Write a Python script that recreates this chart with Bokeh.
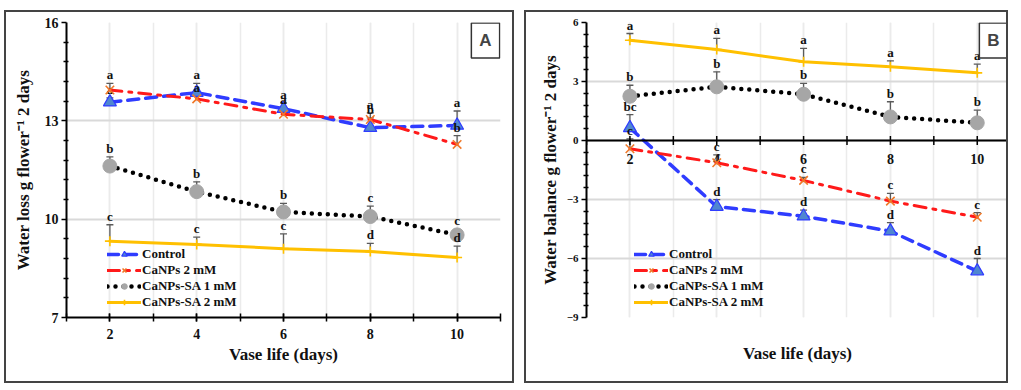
import numpy as np
from bokeh.plotting import figure
from bokeh.models import (ColumnDataSource, Whisker, TeeHead, Legend, LegendItem,
                          FixedTicker, Range1d, Label, Span, Spacer, Title)
from bokeh.layouts import row, column
from bokeh.core.properties import value
from bokeh.embed import file_html
from bokeh.resources import INLINE

# ---------------- data ----------------
days = [2, 4, 6, 8, 10]
x_tick_labels = ["2", "4", "6", "8", "10"]
x_all_ticks = [1, 2, 3, 4, 5, 6, 7, 8, 9, 10, 11]
series_names = ["Control", "CaNPs 2 mM", "CaNPs-SA 1 mM", "CaNPs-SA 2 mM"]

# Panel A: water loss (g flower-1 2 days)
loss_control = [13.57, 13.86, 13.37, 12.79, 12.86]
loss_control_err = [0.13, 0.28, 0.18, 0.30, 0.44]
loss_canps = [13.94, 13.67, 13.20, 13.04, 12.28]
loss_canps_err = [0.20, 0.10, 0.20, 0.20, 0.27]
loss_sa1 = [11.62, 10.84, 10.22, 10.08, 9.52]
loss_sa1_err = [0.28, 0.30, 0.26, 0.32, 0.17]
loss_sa2 = [9.33, 9.23, 9.10, 9.01, 8.83]
loss_sa2_err = [0.50, 0.22, 0.45, 0.25, 0.35]
loss_control_letters = ["a", "a", "a", "b", "a"]
loss_canps_letters = ["a", "a", "a", "a", "b"]
loss_sa1_letters = ["b", "b", "b", "c", "c"]
loss_sa2_letters = ["c", "c", "c", "d", "d"]
loss_y_ticks = [7, 10, 13, 16]
loss_y_minor = [7.6, 8.2, 8.8, 9.4, 10.6, 11.2, 11.8, 12.4, 13.6, 14.2, 14.8, 15.4]

# Panel B: water balance (g flower-1 2 days)
bal_control = [0.64, -3.36, -3.85, -4.61, -6.64]
bal_control_err = [0.68, 0.35, 0.31, 0.43, 0.64]
bal_canps = [-0.42, -1.13, -2.03, -3.08, -3.90]
bal_canps_err = [0.50, 0.40, 0.15, 0.39, 0.23]
bal_sa1 = [2.25, 2.73, 2.35, 1.20, 0.90]
bal_sa1_err = [0.56, 0.76, 0.55, 0.77, 0.64]
bal_sa2 = [5.10, 4.63, 4.00, 3.75, 3.44]
bal_sa2_err = [0.34, 0.56, 0.68, 0.30, 0.44]
bal_control_letters = ["bc", "d", "d", "d", "d"]
bal_canps_letters = ["c", "c", "c", "c", "c"]
bal_sa1_letters = ["b", "b", "b", "b", "b"]
bal_sa2_letters = ["a", "a", "a", "a", "a"]
bal_y_ticks = [-9, -6, -3, 0, 3, 6]
bal_y_minor = [-8.4, -7.8, -7.2, -6.6, -5.4, -4.8, -4.2, -3.6, -2.4, -1.8, -1.2, -0.6,
               0.6, 1.2, 1.8, 2.4, 3.6, 4.2, 4.8, 5.4]

# ---------------- styles ----------------
SERIF = "Liberation Serif"
STYLES = [
    dict(line_color="#2f3cff", line_width=3.5, line_dash="11 7", marker="triangle",
         size=13, fill_color="#4f86d0", mline="#2f3cff", mlw=1.2),
    dict(line_color="#ff1a1a", line_width=3, line_dash="12 7 3 7", marker="x",
         size=12, fill_color="#f07828", mline="#f07828", mlw=1.6),
    dict(line_color="#000000", line_width=4.5, line_dash="0 8", marker="circle",
         size=14, fill_color="#a6a6a6", mline="#a6a6a6", mlw=1),
    dict(line_color="#ffc000", line_width=3, line_dash="solid", marker="cross",
         size=10, fill_color="#ffc000", mline="#ffc000", mlw=1.6),
]
GRID = "#ebebeb"


def make_panel(vals, errs, letters, ylabel, yr, yticks, yminor, x_end, ytick_size,
               zero_axis, box_text, box_x, width, height, mb_left, mb_right, leg_x):
    p = figure(width=width, height=height, output_backend="svg", toolbar_location=None,
               x_range=Range1d(1, x_end), y_range=Range1d(*yr),
               min_border_left=mb_left, min_border_right=mb_right,
               min_border_top=10, min_border_bottom=height - 10 - 295)
    p.outline_line_color = None
    p.background_fill_color = "white"
    p.styles = {"border": "2px solid #444444"}

    # axes
    xt = FixedTicker(ticks=days, minor_ticks=x_all_ticks)
    p.xaxis.ticker = xt
    p.xgrid.ticker = xt
    p.xgrid.grid_line_color = GRID
    p.xgrid.minor_grid_line_color = GRID
    p.xgrid.grid_line_width = 1.5
    p.xgrid.minor_grid_line_width = 1.5
    yt = FixedTicker(ticks=yticks, minor_ticks=yminor)
    p.yaxis.ticker = yt
    p.ygrid.ticker = yt
    p.ygrid.grid_line_color = "#d9d9d9"
    p.ygrid.grid_line_width = 2

    for ax in (p.xaxis[0], p.yaxis[0]):
        ax.axis_line_color = "black"
        ax.axis_line_width = 2
        ax.major_tick_line_color = "black"
        ax.major_tick_line_width = 1.5
        ax.minor_tick_line_color = "black"
        ax.minor_tick_line_width = 1.5
        ax.major_tick_in = 0
        ax.major_tick_out = 5
        ax.minor_tick_in = 2
        ax.minor_tick_out = 3
        ax.major_label_text_font = SERIF
        ax.major_label_text_font_style = "bold"
        ax.axis_label_text_font = SERIF
        ax.axis_label_text_font_style = "bold"
        ax.axis_label_text_font_size = "17px"
        ax.axis_label_text_color = "#111111"
        ax.major_label_text_color = "#111111"

    p.yaxis.major_label_text_font_size = ytick_size
    p.yaxis.major_label_standoff = 3
    if not zero_axis:
        p.yaxis.axis_label = ylabel
        p.yaxis.axis_label_standoff = 9
    else:
        p.add_layout(Title(text=ylabel, align="center", offset=39, standoff=8,
                           text_font=SERIF, text_font_style="bold", text_font_size="17px",
                           text_color="#111111"), "left")

    p.xaxis.axis_label = "Vase life (days)"
    p.xaxis.major_label_text_font_size = "14px"
    if not zero_axis:
        p.xaxis.major_label_overrides = {d: s for d, s in zip(days, x_tick_labels)}
        p.xaxis.major_tick_in = 4
        p.xaxis.major_tick_out = 4
        p.xaxis.minor_tick_in = 4
        p.xaxis.minor_tick_out = 4
        p.xaxis.major_label_standoff = 7
        p.xaxis.axis_label_standoff = 3
    else:
        p.xaxis.ticker = FixedTicker(ticks=[])
        p.xaxis.axis_line_color = None
        p.xaxis.major_tick_out = 0
        p.xaxis.minor_tick_out = 0
        p.xaxis.axis_label_standoff = 26
        p.add_layout(Span(location=0, dimension="width", line_color="black", line_width=2))
        p.scatter(x=x_all_ticks, y=[0] * len(x_all_ticks), marker="dash", angle=np.pi / 2,
                  size=9, line_color="black", line_width=1.5)
        p.text(x=days, y=[0] * len(days), text=x_tick_labels, text_font=value(SERIF),
               text_font_style="bold", text_font_size="14px", text_align="center",
               text_baseline="top", y_offset=13, text_color="#111111")

    items = []
    for name, v, e, lab, st in zip(series_names, vals, errs, letters, STYLES):
        src = ColumnDataSource(dict(x=days, y=v, top=[a + b for a, b in zip(v, e)], lab=lab))
        p.add_layout(Whisker(source=src, base="x", upper="top", lower="y",
                             line_color="#5a5a5a", line_width=1.3, lower_head=None,
                             upper_head=TeeHead(size=7, line_color="#5a5a5a", line_width=1.3)))
        lr = p.line("x", "y", source=src, line_color=st["line_color"],
                    line_width=st["line_width"], line_dash=st["line_dash"], line_cap="round")
        mr = p.scatter("x", "y", source=src, marker=st["marker"], size=st["size"],
                       fill_color=st["fill_color"], line_color=st["mline"],
                       line_width=st["mlw"])
        p.text("x", "top", text="lab", source=src, text_font=value(SERIF),
               text_font_style="bold", text_font_size="13px", text_align="center",
               text_baseline="bottom", y_offset=-1, text_color="#111111")
        items.append(LegendItem(label=name, renderers=[lr, mr]))

    leg = Legend(items=items, location=(leg_x, 7),
                 background_fill_alpha=0, border_line_color=None,
                 label_text_font=SERIF, label_text_font_style="bold",
                 label_text_font_size="13px", label_text_color="#111111",
                 label_text_line_height=1.0,
                 glyph_width=34, glyph_height=14, label_height=14, spacing=-2,
                 padding=0, margin=0, label_standoff=1)
    p.add_layout(leg)

    p.add_layout(Label(x=box_x, y=277, x_units="screen", y_units="screen", text=box_text,
                       text_font="Liberation Sans", text_font_style="bold",
                       text_font_size="17px", text_align="center", text_baseline="middle",
                       background_fill_color="white", border_line_color="#333333",
                       border_line_width=1.5, padding=8))
    return p


pA = make_panel([loss_control, loss_canps, loss_sa1, loss_sa2],
                [loss_control_err, loss_canps_err, loss_sa1_err, loss_sa2_err],
                [loss_control_letters, loss_canps_letters, loss_sa1_letters, loss_sa2_letters],
                "Water loss g flower\u207b\u00b9 2 days", (7, 16), loss_y_ticks, loss_y_minor,
                11, "14px", False, "A", 419, 510, 373, 60, 16, 41)

pB = make_panel([bal_control, bal_canps, bal_sa1, bal_sa2],
                [bal_control_err, bal_canps_err, bal_sa1_err, bal_sa2_err],
                [bal_control_letters, bal_canps_letters, bal_sa1_letters, bal_sa2_letters],
                "Water balance g flower\u207b\u00b9 2 days", (-9, 6), bal_y_ticks, bal_y_minor,
                10.72, "11px", True, "B", 407, 484, 373, 60, 2, 48)

layout = column(Spacer(width=20, height=10),
                row(Spacer(width=4, height=10), pA, Spacer(width=10, height=10), pB))
open("out.html", "w").write(file_html(layout, INLINE))
